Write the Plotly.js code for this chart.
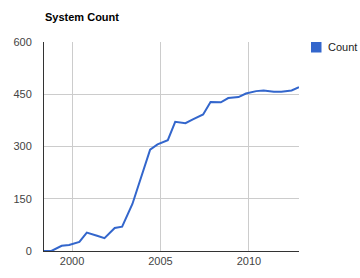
<!DOCTYPE html>
<html>
<head>
<meta charset="utf-8">
<script src="https://cdn.plot.ly/plotly-3.0.1.min.js"></script>
<style>html,body{margin:0;padding:0;background:#fff;}#chart{width:360px;height:278px;}</style>
</head>
<body>
<div id="chart"></div>
<script>
var dates = ['1998-06-01','1998-11-01','1999-06-01','1999-11-01','2000-06-01','2000-11-01',
  '2001-06-01','2001-11-01','2002-06-01','2002-11-01','2003-06-01','2003-11-01',
  '2004-06-01','2004-11-01','2005-06-01','2005-11-01','2006-06-01','2006-11-01',
  '2007-06-01','2007-11-01','2008-06-01','2008-11-01','2009-06-01','2009-11-01',
  '2010-06-01','2010-11-01','2011-06-01','2011-11-01','2012-06-01','2012-11-01'];
var counts = [0,0,15,17,26,53,
  44,37,66,70,135,198,
  291,306,318,371,367,378,
  392,428,427,439,442,452,
  459,461,457,457,461,470];
var seriesName = 'Count';
var chartTitle = 'System Count';
var yTicks = [0,150,300,450,600];

var font = 'Arial, "Liberation Sans", sans-serif';
var lineColor = '#3366cc';
var traces = [
  {x: dates, y: counts, type: 'scatter', mode: 'lines', name: seriesName,
   line: {color: lineColor, width: 2}, showlegend: false}
];
var layout = {
  width: 360, height: 278,
  margin: {l: 44, r: 61, t: 42, b: 27, pad: 0, autoexpand: false},
  paper_bgcolor: '#fff', plot_bgcolor: '#fff',
  font: {family: font, size: 11, color: '#444'},
  title: {text: '<b>' + chartTitle + '</b>', x: 45/360, xanchor: 'left', y: 1 - 17.5/278, yanchor: 'middle',
          font: {family: font, size: 11, color: '#000'}},
  xaxis: {type: 'date', range: [dates[0], dates[dates.length-1]],
          tick0: '2000-01-01', dtick: 'M60', tickformat: '%Y',
          showgrid: true, gridcolor: '#cccccc', gridwidth: 1,
          showline: true, linecolor: '#333', linewidth: 1,
          ticks: '', zeroline: false, automargin: false,
          tickfont: {family: font, size: 11, color: '#444'}},
  yaxis: {range: [0, 600], tickvals: yTicks, ticktext: yTicks.map(String),
          showgrid: true, gridcolor: '#cccccc', gridwidth: 1,
          showline: true, linecolor: '#333', linewidth: 1,
          ticks: '', zeroline: false, automargin: false, ticklabelstandoff: 9,
          tickfont: {family: font, size: 11, color: '#444'}},
  showlegend: false,
  shapes: [
    {type: 'rect', xref: 'paper', yref: 'paper', x0: (311-44)/255, x1: (321.5-44)/255,
     y0: 1 - 10.5/209, y1: 1, fillcolor: lineColor, line: {width: 0}}
  ],
  annotations: [
    {xref: 'paper', yref: 'paper', x: (325.5-44)/255, y: 1 - 5.3/209, xanchor: 'left', yanchor: 'middle',
     text: seriesName, showarrow: false, font: {family: font, size: 11, color: '#222'}}
  ]
};
Plotly.newPlot('chart', traces, layout, {staticPlot: true, displayModeBar: false});
</script>
</body>
</html>
